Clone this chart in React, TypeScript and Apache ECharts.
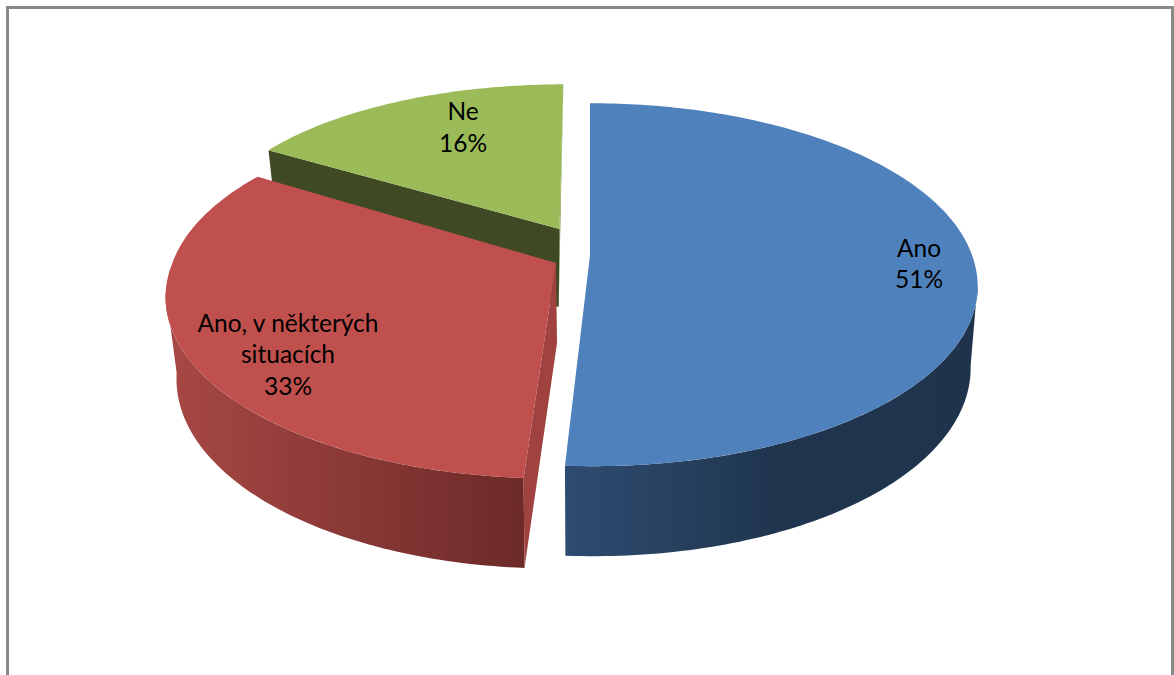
import React, { useEffect, useRef } from "react";
import * as echarts from "echarts";

const categories = ["Ano", "Ano, v některých\nsituacích", "Ne"];
const values = [51, 33, 16];
const topColors = ["#4F81BD", "#C0504D", "#9BBB59"];
const cutColors = ["#2C4A6E", "#A0423F", "#3F4A24"];
const rimStops = [
  ["#2E4C71", "#20364F", "#1F344C"],
  ["#A84845", "#8A3937", "#6C2A28"],
  ["#3F4A24", "#3F4A24", "#3F4A24"],
];
const drawOrder = [2, 1, 0];

// layout of each exploded slice on the page
const apexes = [[590, 255.2], [556, 263], [559.5, 229]];
const radiiX = [382, 383.6, 354];
const radiiY = [176.7, 176.7, 150];
const tilts = [0.1625, 0.18, 0.037];
const leanBack = [0, -6, 4];
const leanFront = [-3, 2.5, 0];
const bottomScales = [0.982, 0.972, 0.972];
const labelBoxes = [[919, 263], [288, 353.5], [463, 126.5]];

const total = values.reduce((a, b) => a + b, 0);
const starts: number[] = [];
values.reduce((acc, v, i) => {
  starts[i] = (acc / total) * 360;
  return acc + v;
}, 0);
const ends = values.map((v, i) => starts[i] + (v / total) * 360);

function topPoint(i: number, deg: number): number[] {
  const t = (deg * Math.PI) / 180;
  const c = Math.cos(t);
  const sn = Math.sin(t);
  const s = 1 / (1 + tilts[i] * c);
  const lean = c > 0 ? leanBack[i] : leanFront[i];
  return [apexes[i][0] + radiiX[i] * sn * s + lean * c * s, apexes[i][1] - radiiY[i] * c * s];
}
function bottomOf(i: number, p: number[], deg: number): number[] {
  const c = Math.cos((deg * Math.PI) / 180);
  return [apexes[i][0] + (p[0] - apexes[i][0]) * bottomScales[i], p[1] + 80 - 10 * c];
}
function bottomApex(i: number): number[] {
  return [apexes[i][0] - (i === 2 ? 0.8 : -1), apexes[i][1] + (i === 2 ? 78 : 80)];
}
function arcPoints(i: number, a: number, b: number): number[][] {
  const pts: number[][] = [];
  const n = Math.max(2, Math.ceil(Math.abs(b - a)));
  for (let k = 0; k <= n; k++) pts.push(topPoint(i, a + ((b - a) * k) / n));
  return pts;
}

const renderItem = (params: any) => {
  const i = drawOrder[params.dataIndex];
  const apex = apexes[i];
  const children: any[] = [];
  const rimStart = topPoint(i, starts[i]);
  const rimEnd = topPoint(i, ends[i]);

  // outer rim wall, only where it faces the viewer
  const visA = Math.max(starts[i], 99);
  const visB = Math.min(ends[i], 261);
  if (visB > visA) {
    const upper = arcPoints(i, visA, visB);
    const lower = upper
      .map((p, k) => bottomOf(i, p, visA + ((visB - visA) * k) / (upper.length - 1)))
      .reverse();
    children.push({
      type: "polygon",
      shape: { points: upper.concat(lower) },
      style: {
        fill: new echarts.graphic.LinearGradient(
          0, 0, 1, 0,
          rimStops[i].map((color, k) => ({ offset: k / 2, color }))
        ),
      },
    });
  }
  // cut walls
  if (i === 1) {
    children.push({
      type: "polygon",
      shape: { points: [apex, rimStart, bottomOf(i, rimStart, starts[i]), bottomApex(i)] },
      style: { fill: cutColors[i] },
    });
  }
  if (i === 2) {
    children.push({
      type: "polygon",
      shape: { points: [rimEnd, apex, bottomApex(i)] },
      style: { fill: "#7F9A48" },
    });
    children.push({
      type: "polygon",
      shape: { points: [apex, rimStart, bottomOf(i, rimStart, starts[i]), bottomApex(i)] },
      style: { fill: cutColors[i] },
    });
  }
  // top face
  children.push({
    type: "polygon",
    shape: { points: [apex, ...arcPoints(i, starts[i], ends[i])] },
    style: { fill: topColors[i] },
  });
  // label
  children.push({
    type: "text",
    x: labelBoxes[i][0],
    y: labelBoxes[i][1],
    style: {
      text: `${categories[i]}\n${values[i]}%`,
      fill: "#000000",
      font: '24.5px Lato, "Open Sans", sans-serif',
      lineHeight: 31.5,
      align: "center",
      verticalAlign: "middle",
    },
  });
  return { type: "group", children };
};

export default function App() {
  const ref = useRef<HTMLDivElement>(null);
  useEffect(() => {
    const chart = echarts.init(ref.current!, undefined, { renderer: "svg" });
    chart.setOption({
      animation: false,
      backgroundColor: "#ffffff",
      graphic: [
        {
          type: "polyline",
          shape: { points: [[7.5, 690], [7.5, 7.5], [1172.5, 7.5], [1172.5, 690]] },
          style: { stroke: "#898989", lineWidth: 3, fill: "none" },
          silent: true,
        },
      ],
      series: [
        {
          type: "custom",
          coordinateSystem: "none",
          silent: true,
          clip: false,
          renderItem,
          data: drawOrder.map((i) => ({ name: categories[i], value: [values[i]] })),
        },
      ],
    });
    return () => chart.dispose();
  }, []);
  return (
    <div
      ref={ref}
      style={{ position: "fixed", left: 0, top: 0, width: 1174, height: 675 }}
    />
  );
}
